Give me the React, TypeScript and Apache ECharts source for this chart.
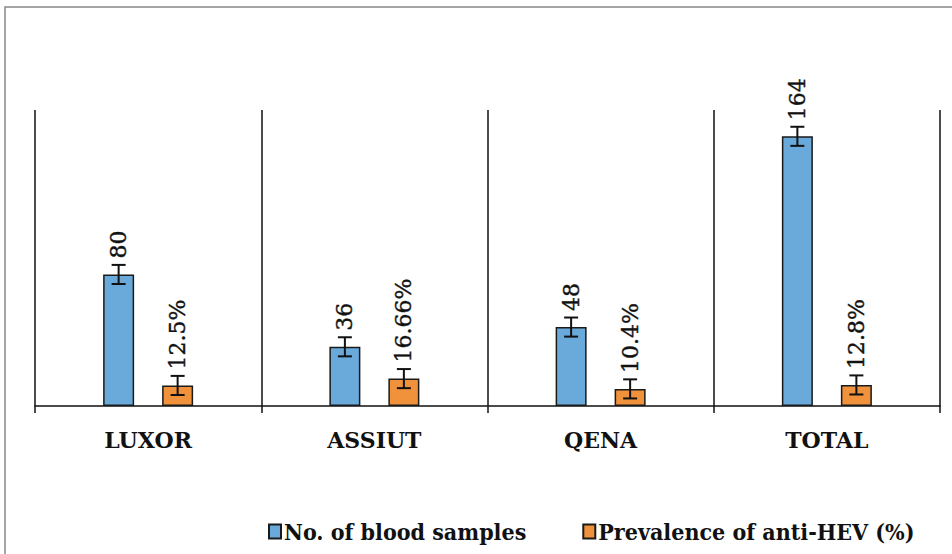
import React, { useEffect, useRef } from "react";
import * as echarts from "echarts";

const categories = ["LUXOR", "ASSIUT", "QENA", "TOTAL"];
const bloodSamples = [80, 36, 48, 164];
const prevalence = [12.5, 16.66, 10.4, 12.8];
const sampleErrors = [5.8, 5.8, 5.8, 5.8];
const prevalenceErrors = [5.8, 5.8, 5.8, 5.8];
const seriesNames = ["No. of blood samples", "Prevalence of anti-HEV (%)"];
const yMax = 180;

const BAR_W = 31;
const BAR_GAP_PX = 28;
const CAP_HALF = 7;

function errorSeries(values: number[], errs: number[], dir: number) {
  return {
    type: "custom",
    z: 10,
    silent: true,
    data: values.map((v, i) => [i, v, errs[i]]),
    renderItem: (params: any, api: any) => {
      const idx = api.value(0);
      const v = api.value(1);
      const e = api.value(2);
      const c = api.coord([idx, v]);
      const hi = api.coord([idx, v + e]);
      const lo = api.coord([idx, v - e]);
      const x = c[0] + dir * (BAR_W / 2 + BAR_GAP_PX / 2);
      const st = { stroke: "#111", lineWidth: 2 };
      return {
        type: "group",
        children: [
          { type: "line", shape: { x1: x, y1: hi[1], x2: x, y2: lo[1] }, style: st },
          { type: "line", shape: { x1: x - CAP_HALF, y1: hi[1], x2: x + CAP_HALF, y2: hi[1] }, style: st },
          { type: "line", shape: { x1: x - CAP_HALF, y1: lo[1], x2: x + CAP_HALF, y2: lo[1] }, style: st },
        ],
      };
    },
  };
}

export default function App() {
  const ref = useRef<HTMLDivElement>(null);
  useEffect(() => {
    if (!ref.current) return;
    const chart = echarts.init(ref.current, null, { renderer: "svg" });
    const labelBase = {
      show: true,
      position: "top",
      rotate: 90,
      align: "left",
      verticalAlign: "middle",
      distance: 16,
      fontFamily: "DejaVu Serif",
      fontSize: 22,
      color: "#111",
      textBorderColor: "#111",
      textBorderWidth: 0.4,
    };
    chart.setOption({
      animation: false,
      backgroundColor: "#fff",
      graphic: [
        {
          type: "rect",
          shape: { x: 5, y: 7, width: 1000, height: 600 },
          style: { fill: "none", stroke: "#888", lineWidth: 1.5 },
          z: -1,
        },
      ],
      legend: {
        left: 263,
        top: 515,
        icon: "rect",
        itemWidth: 12,
        itemHeight: 14,
        itemGap: 56,
        textStyle: {
          fontFamily: "DejaVu Serif Condensed",
          fontWeight: "bold",
          fontSize: 23,
          color: "#111",
          padding: [0, 0, 0, -2],
        },
        data: seriesNames,
      },
      grid: { left: 35, right: 12, top: 110, bottom: 148 },
      xAxis: {
        type: "category",
        data: categories,
        axisLine: { show: true, lineStyle: { color: "#111", width: 1.5 } },
        axisTick: { show: true, length: 7, lineStyle: { color: "#111", width: 1.5 } },
        splitLine: { show: true, lineStyle: { color: "#111", width: 1.5 } },
        axisLabel: {
          margin: 23,
          fontFamily: "DejaVu Serif",
          fontWeight: "bold",
          fontSize: 22,
          color: "#111",
        },
      },
      yAxis: {
        type: "value",
        min: 0,
        max: yMax,
        show: false,
        splitLine: { show: false },
      },
      series: [
        {
          name: seriesNames[0],
          type: "bar",
          data: bloodSamples,
          barWidth: BAR_W,
          barGap: (BAR_GAP_PX / BAR_W) * 100 + "%",
          itemStyle: { color: "#6AAADB", borderColor: "#1a1a1a", borderWidth: 1.5 },
          label: { ...labelBase, formatter: "{c}" },
        },
        {
          name: seriesNames[1],
          type: "bar",
          data: prevalence,
          barWidth: BAR_W,
          itemStyle: { color: "#F0913C", borderColor: "#1a1a1a", borderWidth: 1.5 },
          label: { ...labelBase, formatter: "{c}%" },
        },
        errorSeries(bloodSamples, sampleErrors, -1),
        errorSeries(prevalence, prevalenceErrors, 1),
      ],
    });
    return () => chart.dispose();
  }, []);
  return (
    <div
      ref={ref}
      style={{ position: "fixed", left: 0, top: 0, width: 952, height: 554 }}
    />
  );
}
